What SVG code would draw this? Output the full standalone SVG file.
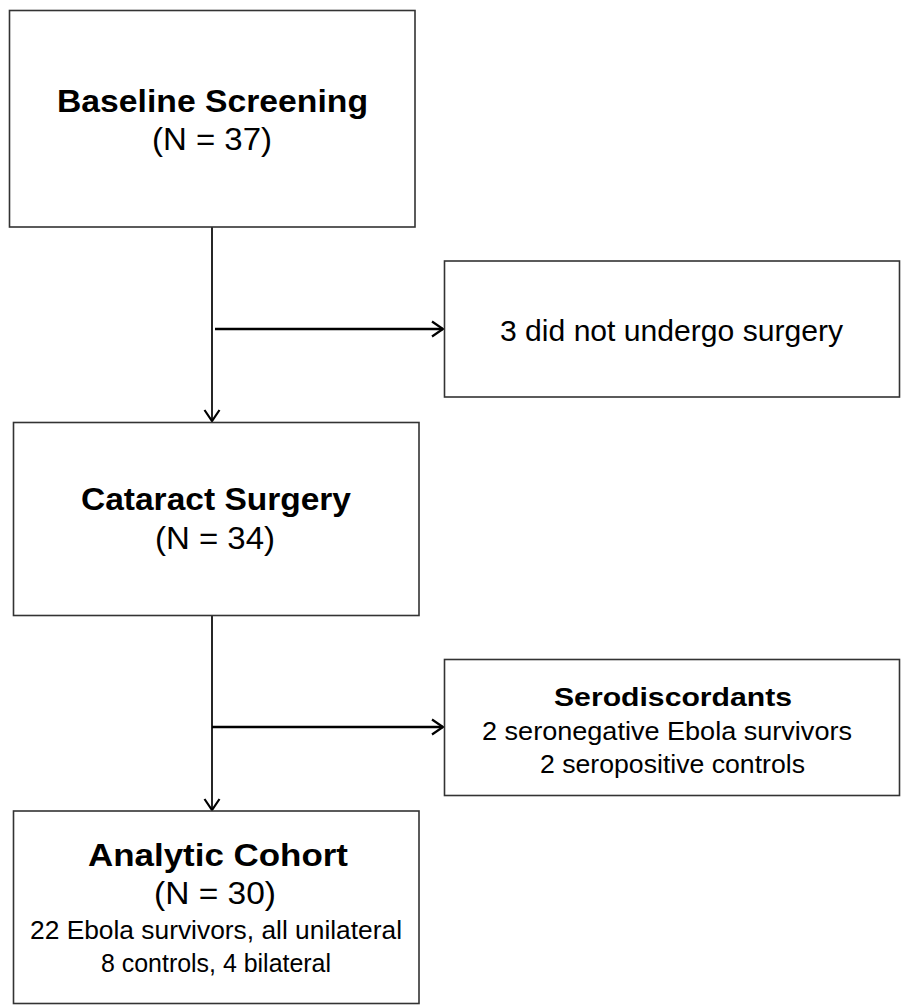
<svg xmlns="http://www.w3.org/2000/svg" width="901" height="1006" viewBox="0 0 901 1006">
<defs>
<marker id="arr" markerWidth="16" markerHeight="18" refX="13" refY="9" orient="auto" markerUnits="userSpaceOnUse">
<path d="M2,1.5 L13,9 L2,16.5" fill="none" stroke="#000" stroke-width="2.2"/>
</marker>
<style>
.box{fill:#fff;stroke:#333;stroke-width:1.6}
.t{font-family:"Liberation Sans",Arial,sans-serif;fill:#000;text-anchor:middle}
.b{font-weight:bold}
.ln{fill:none;stroke:#000;stroke-width:1.7}
.la{fill:none;stroke:#000;stroke-width:2.4}
</style>
</defs>
<rect width="901" height="1006" fill="#fff"/>
<g id="connectors">
<line class="ln" x1="212" y1="227" x2="212" y2="421" marker-end="url(#arr)"/>
<line class="la" x1="215" y1="329" x2="443" y2="329" marker-end="url(#arr)"/>
<line class="ln" x1="212" y1="616" x2="212" y2="810" marker-end="url(#arr)"/>
<line class="la" x1="212" y1="727" x2="443" y2="727" marker-end="url(#arr)"/>
</g>
<g id="baseline">
<rect class="box" x="9.5" y="10.5" width="405.5" height="216.5"/>
<text class="t b" x="212.5" y="112" font-size="31" textLength="311" lengthAdjust="spacingAndGlyphs">Baseline Screening</text>
<text class="t" x="212" y="150" font-size="31" textLength="120" lengthAdjust="spacingAndGlyphs">(N = 37)</text>
</g>
<g id="nosurgery">
<rect class="box" x="444.5" y="261" width="455" height="136"/>
<text class="t" x="671.5" y="341" font-size="29" textLength="343" lengthAdjust="spacingAndGlyphs">3 did not undergo surgery</text>
</g>
<g id="cataract">
<rect class="box" x="13.5" y="422.5" width="405.5" height="193"/>
<text class="t b" x="216" y="510" font-size="31" textLength="270" lengthAdjust="spacingAndGlyphs">Cataract Surgery</text>
<text class="t" x="215" y="549" font-size="31" textLength="120" lengthAdjust="spacingAndGlyphs">(N = 34)</text>
</g>
<g id="serodiscordants">
<rect class="box" x="444.5" y="659.5" width="455" height="136"/>
<text class="t b" x="673" y="706" font-size="26" textLength="238" lengthAdjust="spacingAndGlyphs">Serodiscordants</text>
<text class="t" x="667" y="740" font-size="26" textLength="370" lengthAdjust="spacingAndGlyphs">2 seronegative Ebola survivors</text>
<text class="t" x="672.5" y="773" font-size="26" textLength="265" lengthAdjust="spacingAndGlyphs">2 seropositive controls</text>
</g>
<g id="analytic">
<rect class="box" x="13.5" y="811" width="405.5" height="192.5"/>
<text class="t b" x="218" y="866" font-size="31" textLength="260" lengthAdjust="spacingAndGlyphs">Analytic Cohort</text>
<text class="t" x="215" y="904" font-size="31" textLength="122" lengthAdjust="spacingAndGlyphs">(N = 30)</text>
<text class="t" x="216" y="939" font-size="26" textLength="372" lengthAdjust="spacingAndGlyphs">22 Ebola survivors, all unilateral</text>
<text class="t" x="216" y="972" font-size="26" textLength="230" lengthAdjust="spacingAndGlyphs">8 controls, 4 bilateral</text>
</g>
</svg>
